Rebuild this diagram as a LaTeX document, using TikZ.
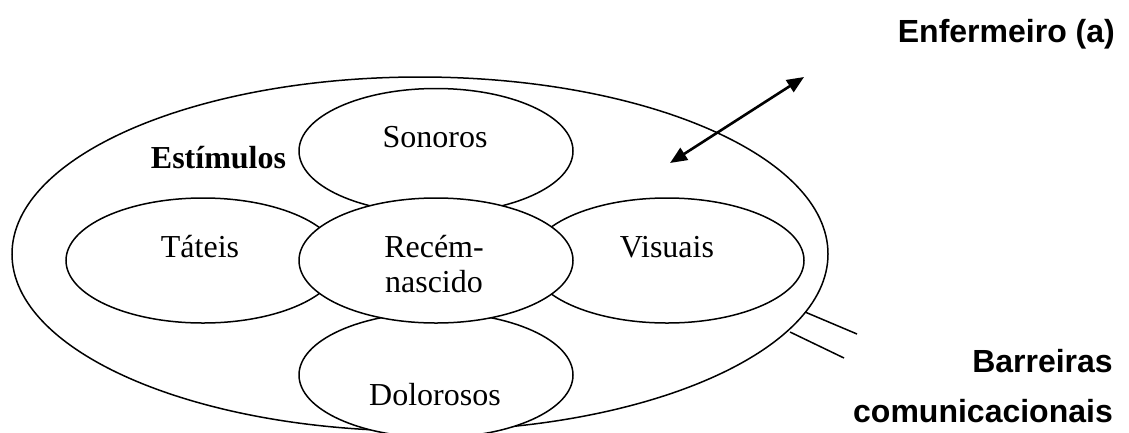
\documentclass[tikz,border=0pt]{standalone}
\usepackage{fontspec}
\setmainfont{Liberation Serif}
\newfontfamily\arialfont{Liberation Sans}
\usetikzlibrary{arrows.meta,shapes.geometric}
\begin{document}
\begin{tikzpicture}[x=1pt,y=-1pt,
  oval/.style={draw,ellipse,line width=1.5pt,fill=white,inner sep=0pt,minimum width=274pt,minimum height=125pt},
  lbl/.style={inner sep=0pt,anchor=base,font=\fontsize{32}{35}\selectfont},
  side/.style={inner sep=0pt,anchor=base east,font=\arialfont\bfseries\fontsize{32}{38}\selectfont},
  thin/.style={line width=1.5pt},
  twoway/.style={line width=2.6pt,{Triangle[length=17pt,width=14pt]}-{Triangle[length=17pt,width=14pt]}}]
\useasboundingbox (0,0) rectangle (1129,432);
\clip (0,0) rectangle (1129,432);
\fill[white] (0,0) rectangle (1129,432);
\node[draw,ellipse,line width=1.5pt,inner sep=0pt,minimum width=816pt,minimum height=354pt] (outer) at (420,254) {};
\node[oval] (son) at (436,151) {};
\node[oval] (tat) at (203,260.5) {};
\node[oval] (vis) at (667,260.5) {};
\node[oval] (dol) at (436,375) {};
\node[oval] (rn) at (436,260.5) {};
% labels
\node[lbl,font=\bfseries\fontsize{32}{35}\selectfont] (est) at (218.5,168) {Estímulos};
\node[lbl] (sontxt) at (435,147) {Sonoros};
\node[lbl] (tattxt) at (200,257) {Táteis};
\node[lbl] (rntxt) at (434,257) {Recém-};
\node[lbl] (rntxt2) at (434,292) {nascido};
\node[lbl] (vistxt) at (667,257) {Visuais};
\node[lbl] (doltxt) at (435,405) {Dolorosos};
% arrow
\coordinate (a1) at (670,163);
\coordinate (a2) at (804,77);
\draw[twoway] (a1) -- (a2);
% barriers
\coordinate (b1s) at (805,312);
\coordinate (b1e) at (857,334);
\coordinate (b2s) at (790,332);
\coordinate (b2e) at (844,358);
\draw[thin] (b1s) -- (b1e);
\draw[thin] (b2s) -- (b2e);
% side texts
\node[side] (enf) at (1115,42) {Enfermeiro (a)};
\node[side] (bar) at (1113,372) {Barreiras};
\node[side] (com) at (1113,422) {comunicacionais};
\end{tikzpicture}
\end{document}
